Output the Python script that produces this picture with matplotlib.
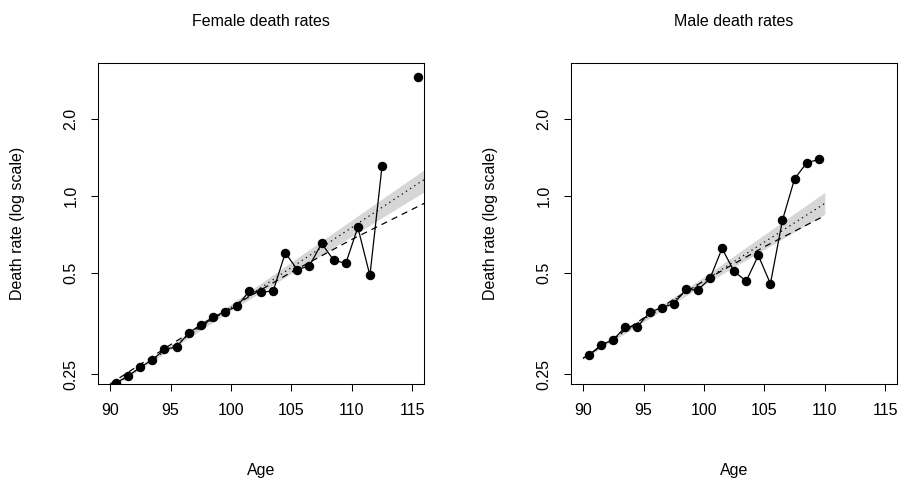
import matplotlib
matplotlib.use('Agg')
import matplotlib.pyplot as plt
import numpy as np

plt.rcParams['font.family'] = ['Liberation Sans', 'DejaVu Sans']
plt.rcParams['font.size'] = 11.5

nan = np.nan

# death rates (log scale)
ages_f = np.arange(90.5, 116.0, 1.0)
rate_f = [0.185, 0.197, 0.213, 0.228, 0.250, 0.256, 0.290, 0.313, 0.334, 0.352,
          0.369, 0.423, 0.419, 0.425, 0.599, 0.514, 0.533, 0.652, 0.561, 0.544,
          0.754, 0.488, 1.308, nan, nan, 2.93]

ages_m = np.arange(90.5, 110.0, 1.0)
rate_m = [0.237, 0.261, 0.273, 0.307, 0.307, 0.350, 0.365, 0.378, 0.430, 0.428,
          0.475, 0.623, 0.506, 0.464, 0.585, 0.453, 0.805, 1.169, 1.351, 1.393]

# fitted curves: dotted (straight on log scale), dashed (bends down), grey band
dot_age_f = [90, 116]
dotted_f = [0.177, 1.163]
dash_age_f = [90, 95, 100, 105, 110, 116]
dashed_f = [0.183, 0.261, 0.366, 0.503, 0.676, 0.937]
band_age_f = [90, 100, 116]
band_lo_f = [0.1756, 0.355, 1.04]
band_hi_f = [0.1784, 0.377, 1.27]

dot_age_m = [90, 110]
dotted_m = [0.231, 0.936]
dash_age_m = [90, 95, 100, 105, 110]
dashed_m = [0.231, 0.332, 0.465, 0.633, 0.838]
band_age_m = [90, 100, 110]
band_lo_m = [0.229, 0.449, 0.85]
band_hi_m = [0.233, 0.482, 1.035]

titles = ['Female death rates', 'Male death rates']
xticks = [90, 95, 100, 105, 110, 115]
yticks = [0.2, 0.5, 1.0, 2.0]
ytick_labels = ['0.25', '0.5', '1.0', '2.0']

panels = [
    (ages_f, rate_f, dot_age_f, dotted_f, dash_age_f, dashed_f, band_age_f, band_lo_f, band_hi_f),
    (ages_m, rate_m, dot_age_m, dotted_m, dash_age_m, dashed_m, band_age_m, band_lo_m, band_hi_m),
]

fig = plt.figure(figsize=(9.01, 4.83), dpi=100)
W, H = 901, 483
lefts = [98, 571]

for i, (ages, rate, da, dot, sa, dash, ba, blo, bhi) in enumerate(panels):
    ax = fig.add_axes([lefts[i] / W, 1 - 384 / H, 326.3 / W, (384 - 62.7) / H])
    ax.fill_between(ba, blo, bhi, color='#d6d6d6', lw=0)
    ax.plot(da, dot, color='black', lw=0.9, dashes=(1, 3))
    ax.plot(sa, dash, color='black', lw=0.9, dashes=(5, 4))
    ax.plot(ages, rate, color='black', lw=0.9, marker='o', ms=5.8)

    ax.set_yscale('log')
    ax.set_xlim(89, 116)
    ax.set_ylim(0.183, 3.34)
    ax.minorticks_off()
    ax.set_xticks(xticks)
    ax.set_xticklabels([str(t) for t in xticks])
    ax.set_yticks(yticks)
    ax.set_yticklabels(ytick_labels, rotation=90, va='center')
    ax.tick_params(length=5, width=0.75, pad=9)
    for s in ax.spines.values():
        s.set_linewidth(0.75)

    cx = (lefts[i] + 163) / W
    fig.text(cx, 1 - 22 / H, titles[i], ha='center', va='center')
    fig.text(cx, 1 - 470 / H, 'Age', ha='center', va='center')
    fig.text((lefts[i] - 80) / W, 1 - 223 / H, 'Death rate (log scale)',
             ha='center', va='center', rotation=90)

fig.savefig('out.png', dpi=100)
